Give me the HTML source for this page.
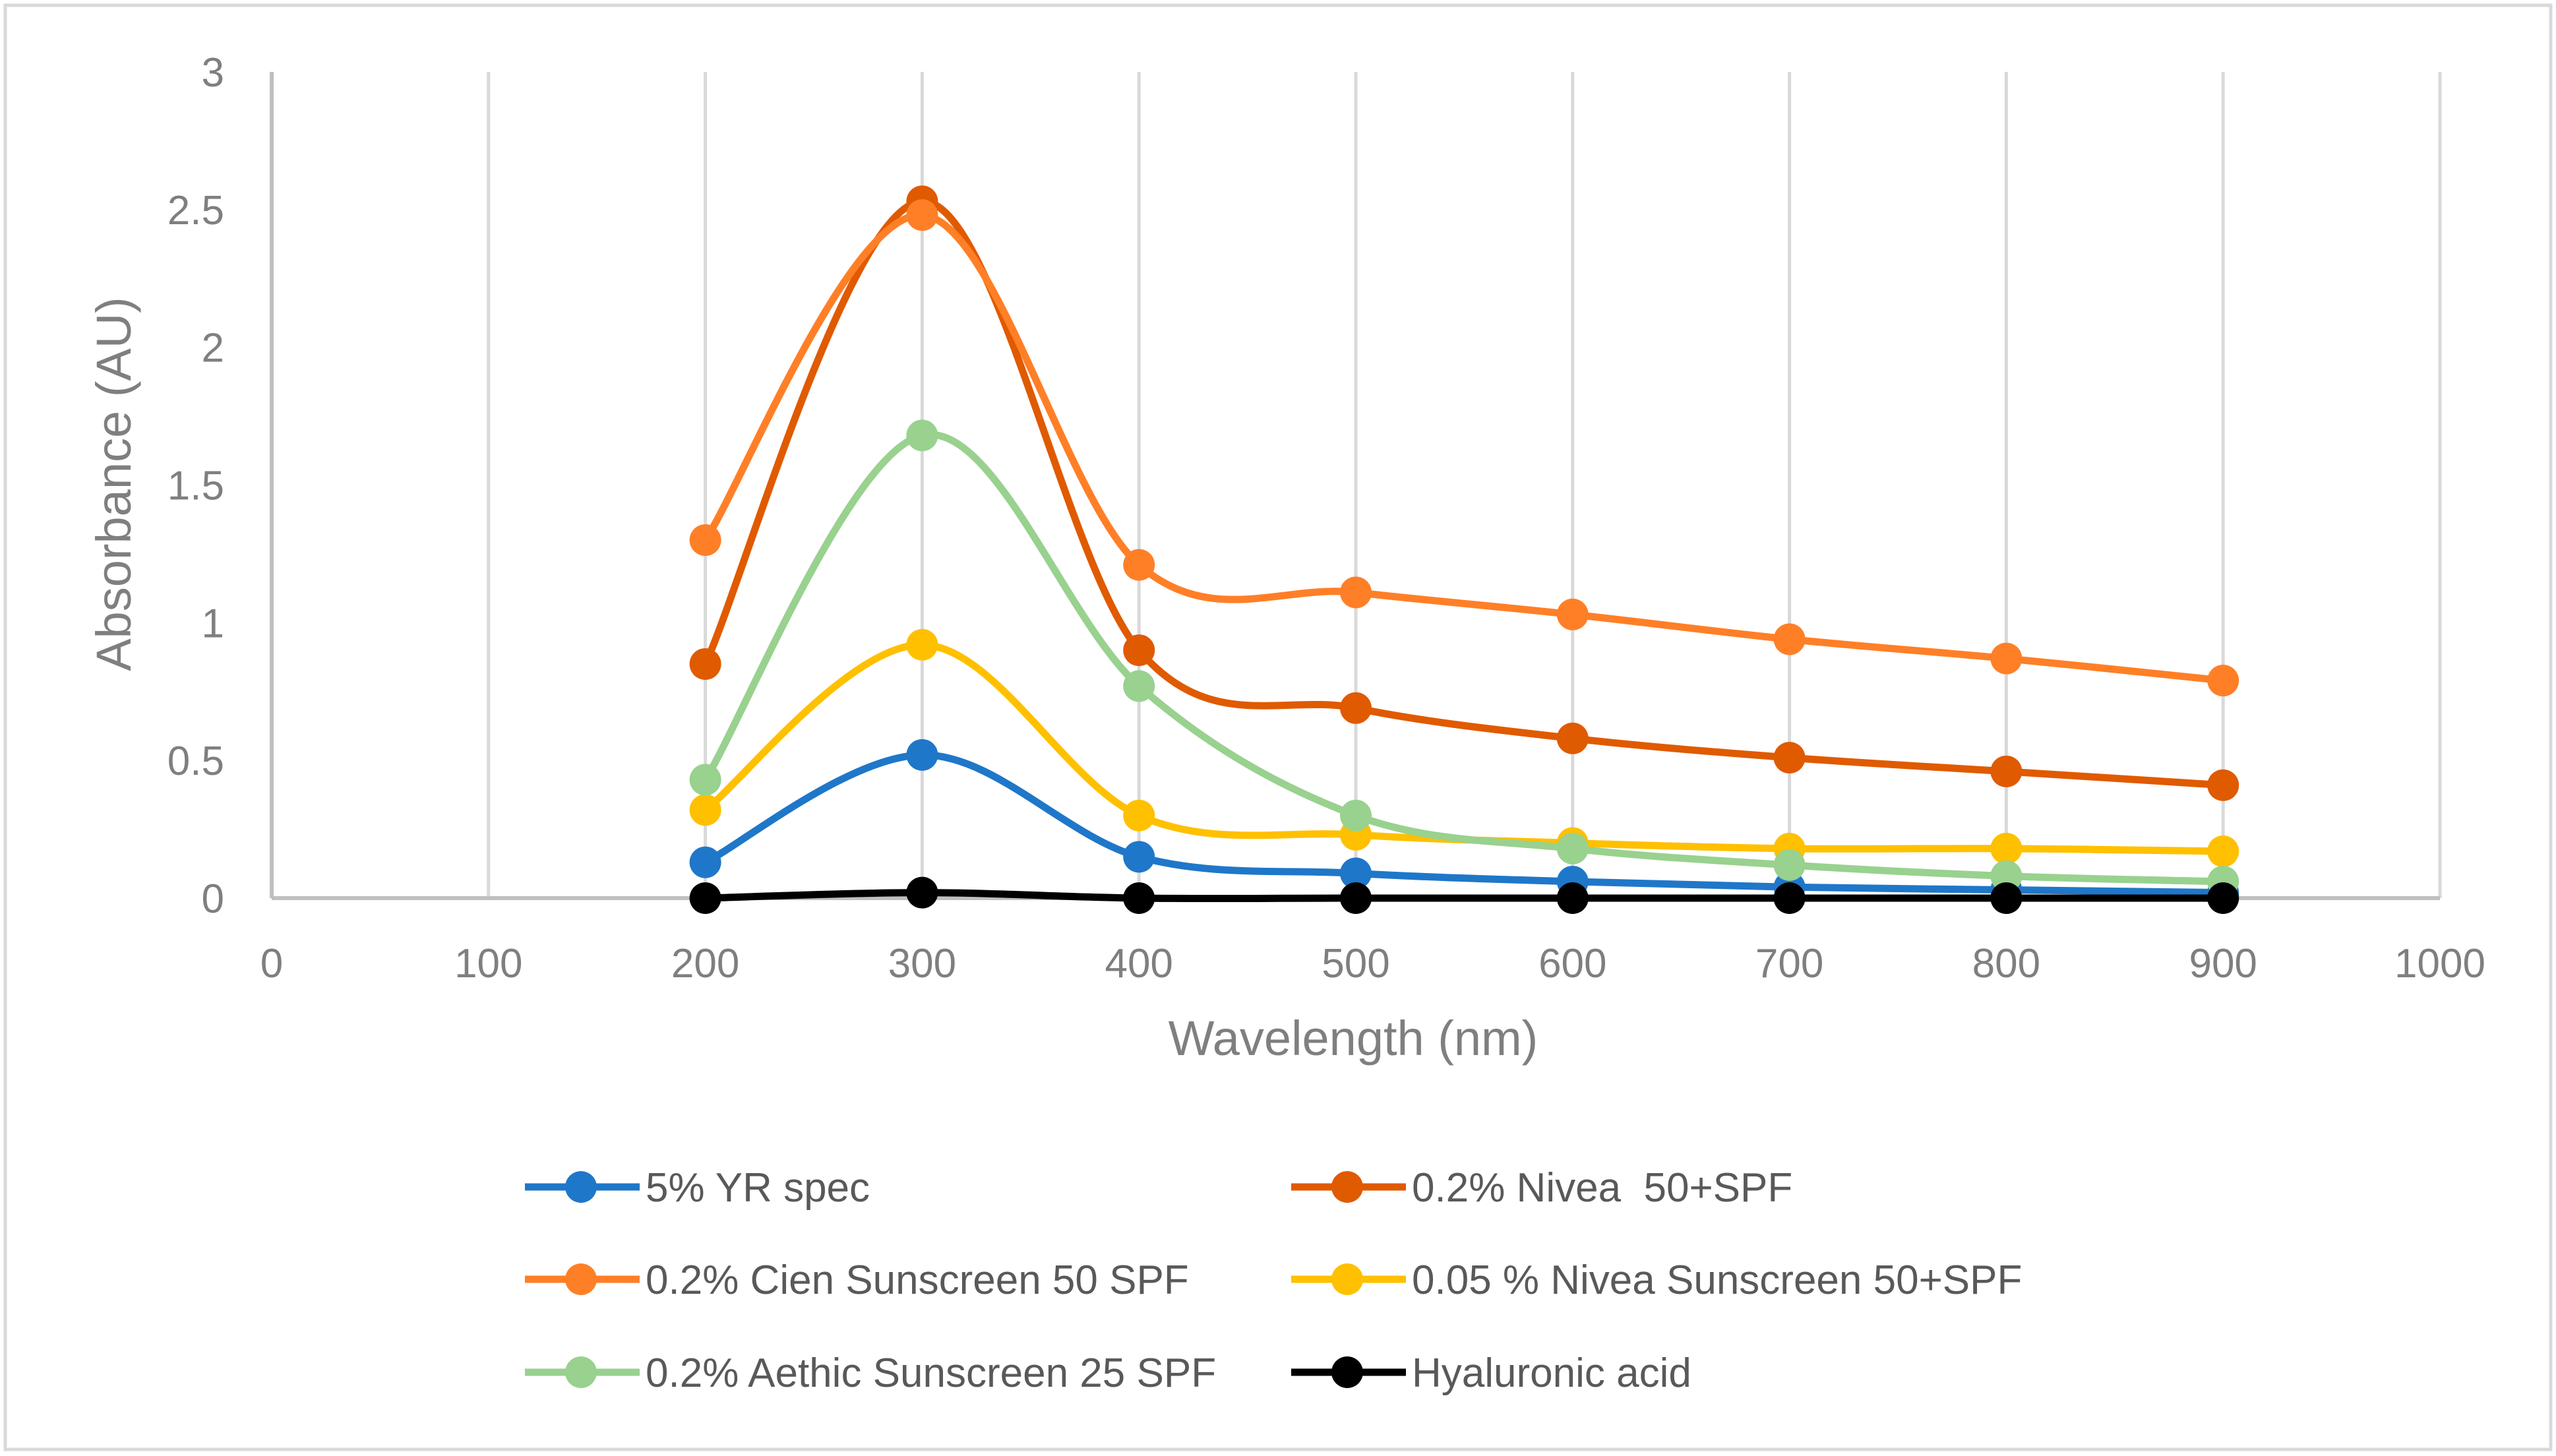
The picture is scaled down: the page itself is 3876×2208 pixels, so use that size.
<!DOCTYPE html>
<html><head><meta charset="utf-8"><style>
body{margin:0;background:#fff}
svg{display:block;font-family:"Liberation Sans",sans-serif}
</style></head><body>
<svg id="chart" width="3876" height="2208" viewBox="0 0 3876 2208" xmlns="http://www.w3.org/2000/svg">
<rect x="8" y="8" width="3860" height="2190" fill="#fff" stroke="#d9d9d9" stroke-width="5"/>
<g id="grid"></g>
<g id="axes"></g>
<g id="series"></g>
<text x="2052" y="1600" font-size="74" fill="#7f7f7f" text-anchor="middle">Wavelength (nm)</text>
<text transform="translate(198,734) rotate(-90)" font-size="74" fill="#7f7f7f" text-anchor="middle">Absorbance (AU)</text>
<g id="legend"></g>
</svg>
<script>
const wavelengths=[200,300,400,500,600,700,800,900];
const yrSpec=[0.13,0.52,0.15,0.09,0.06,0.04,0.03,0.02];
const nivea02=[0.85,2.53,0.90,0.69,0.58,0.51,0.46,0.41];
const cien02=[1.30,2.48,1.21,1.11,1.03,0.94,0.87,0.79];
const nivea005=[0.32,0.92,0.30,0.23,0.20,0.18,0.18,0.17];
const aethic02=[0.43,1.68,0.77,0.30,0.18,0.12,0.08,0.06];
const hyaluronic=[0,0.02,0,0,0,0,0,0];
const seriesNames=["5% YR spec","0.2% Nivea  50+SPF","0.2% Cien Sunscreen 50 SPF","0.05 % Nivea Sunscreen 50+SPF","0.2% Aethic Sunscreen 25 SPF","Hyaluronic acid"];
const xTicks=[0,100,200,300,400,500,600,700,800,900,1000];
const yTicks=[0,0.5,1,1.5,2,2.5,3];
const yTickLabels=["0","0.5","1","1.5","2","2.5","3"];

const colors=["#1f77c9","#e05a00","#ff7f27","#ffc000","#99d18f","#000000"];
const allData=[yrSpec,nivea02,cien02,nivea005,aethic02,hyaluronic];
const NS="http://www.w3.org/2000/svg";
const X0=412,X1=3700,Y0=1362,Y1=109;
const sx=v=>X0+(v-0)/(1000-0)*(X1-X0);
const sy=v=>Y0-(v-0)/(3-0)*(Y0-Y1);
function mk(tag,attrs,parent){const e=document.createElementNS(NS,tag);for(const k in attrs)e.setAttribute(k,attrs[k]);parent.appendChild(e);return e;}
const grid=document.getElementById('grid'),axes=document.getElementById('axes'),ser=document.getElementById('series'),leg=document.getElementById('legend');
xTicks.forEach((t,i)=>{
  if(t>0){const l=mk('line',{x1:sx(t),x2:sx(t),y1:Y1,y2:Y0,stroke:'#d9d9d9','stroke-width':5},grid);
  
  }
  const tx=mk('text',{x:sx(t),y:1482,'font-size':62,fill:'#7f7f7f','text-anchor':'middle'},axes);
  tx.textContent=t;
  
  
});
const yl=mk('line',{x1:X0,x2:X0,y1:Y1,y2:Y0,stroke:'#bfbfbf','stroke-width':6},axes);


const xl=mk('line',{x1:X0,x2:X1,y1:Y0,y2:Y0,stroke:'#bfbfbf','stroke-width':6},axes);


yTicks.forEach((t,i)=>{
  const tx=mk('text',{x:340,y:sy(t)+22,'font-size':62,fill:'#7f7f7f','text-anchor':'end'},axes);
  tx.textContent=yTickLabels[i];
  
  
});
function smooth(pts){
  let d=`M${pts[0][0]},${pts[0][1]}`;
  for(let i=0;i<pts.length-1;i++){
    const p0=pts[Math.max(i-1,0)],p1=pts[i],p2=pts[i+1],p3=pts[Math.min(i+2,pts.length-1)];
    const c1=[p1[0]+(p2[0]-p0[0])/6,p1[1]+(p2[1]-p0[1])/6];
    const c2=[p2[0]-(p3[0]-p1[0])/6,p2[1]-(p3[1]-p1[1])/6];
    d+=` C${c1[0]},${c1[1]} ${c2[0]},${c2[1]} ${p2[0]},${p2[1]}`;
  }
  return d;
}
allData.forEach((vals,s)=>{
  const g=mk('g',{},ser);
  
  
  const pts=vals.map((v,i)=>[sx(wavelengths[i]),sy(v)]);
  const p=mk('path',{d:smooth(pts),fill:'none',stroke:colors[s],'stroke-width':11,'stroke-linejoin':'round'},g);
  
  
  pts.forEach(pt=>{
    const c=mk('circle',{cx:pt[0],cy:pt[1],r:24,fill:colors[s]},g);
    
    
  });
});
const legX=[796,1958],legY=[1800,1940,2081];
seriesNames.forEach((n,i)=>{
  const lx=legX[i%2],ly=legY[Math.floor(i/2)];
  const g=mk('g',{},leg);
  
  
  mk('line',{x1:lx,x2:lx+174,y1:ly,y2:ly,stroke:colors[i],'stroke-width':11},g);
  mk('circle',{cx:lx+85,cy:ly,r:24,fill:colors[i]},g);
  const t=mk('text',{x:lx+183,y:ly+22,'font-size':62,fill:'#595959'},g);
  t.setAttribute('style','white-space:pre');
  t.textContent=n;
});
</script>
</body></html>
